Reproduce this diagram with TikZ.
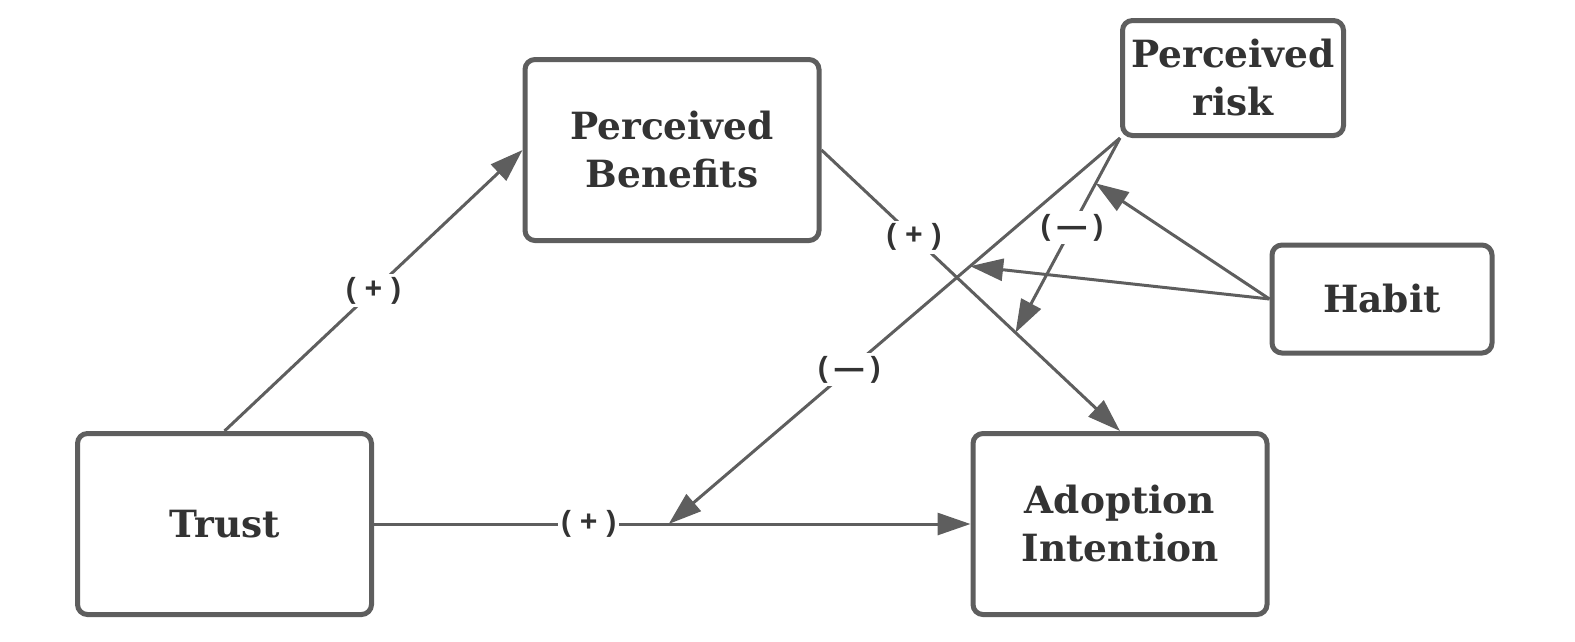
\documentclass[tikz,border=0pt]{standalone}
\usepackage{fontspec}
\setmainfont{DejaVu Serif}
\newfontfamily\lblfont{Open Sans}
\usetikzlibrary{arrows.meta,calc}
\definecolor{linegray}{HTML}{5E5E5E}
\definecolor{txtgray}{HTML}{333333}
\tikzset{
  box/.style={draw=linegray, line width=5pt, rounded corners=10pt, fill=white, align=center,
    text=txtgray, font=\fontsize{37.5}{48}\selectfont\bfseries, inner sep=0pt},
  arr/.style={draw=linegray, line width=3pt, -{Triangle[length=33pt,width=22pt]}},
  lbl/.style={fill=white, text=txtgray, font=\lblfont\fontsize{31}{34}\selectfont\bfseries, inner sep=3pt}
}
\begin{document}
\begin{tikzpicture}[x=1pt,y=-1pt]
        \useasboundingbox (0,0) rectangle (1575,641);
        \node[box, minimum width=294pt, minimum height=181pt] (trust) at (224.5,524) {Trust};
        \node[box, minimum width=294pt, minimum height=181pt] (pb) at (672,150) {Perceived\\Benefits};
        \node[box, minimum width=294pt, minimum height=181pt] (ai) at (1120,524) {Adoption\\Intention};
        \node[box, minimum width=221pt, minimum height=115pt] (pr) at (1233,78) {Perceived\\risk};
        \node[box, minimum width=220pt, minimum height=108pt] (habit) at (1382,299) {Habit};
        % points where the moderating arrows meet
        \coordinate (m1) at ($(trust.east)!0.494!(ai.west)$);
        \coordinate (m2) at ($(pb.east)!0.65!(ai.north)$);
        \coordinate (m3) at ($(pr.south west)!0.332!(m1)$);
        \coordinate (m4) at ($(pr.south west)!0.233!(m2)$);
        \draw[arr] (trust.north) --node[lbl]{( + )} (pb.west);
        \draw[arr] (pb.east) --node[lbl, pos=0.31]{( + )} (ai.north);
        \draw[arr] (trust.east) --node[lbl, pos=0.36]{( + )} (ai.west);
        \draw[arr] (pr.south west) --node[lbl, pos=0.6]{(\,—\,)} (m1);
        \draw[arr] (pr.south west) --node[lbl, pos=0.46]{(\,—\,)} (m2);
        \draw[arr] (habit.west) -- (m3);
        \draw[arr] (habit.west) -- (m4);
\end{tikzpicture}
\end{document}
